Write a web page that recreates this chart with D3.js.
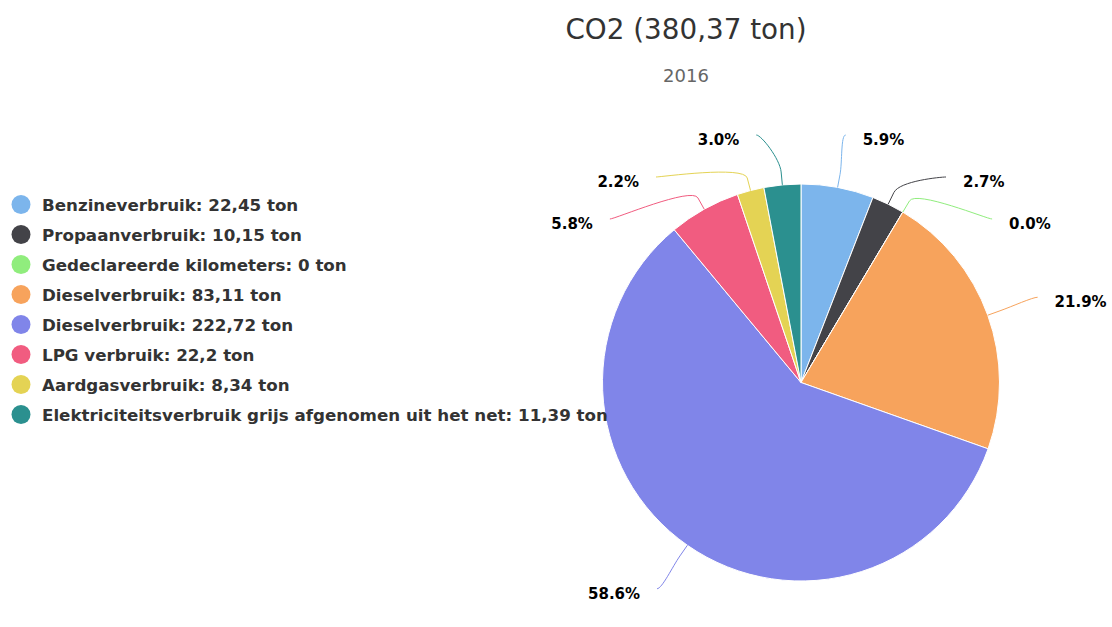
<!DOCTYPE html>
<html>
<head>
<meta charset="utf-8">
<script src="https://cdn.jsdelivr.net/npm/d3@7"></script>
<style>
  body { margin: 0; background: #fff; }
  svg { font-family: "DejaVu Sans", sans-serif; display: block; }
</style>
</head>
<body>
<div id="viz-chart"></div>
<script>
// data
const categories = [
  "Benzineverbruik",
  "Propaanverbruik",
  "Gedeclareerde kilometers",
  "Dieselverbruik",
  "Dieselverbruik",
  "LPG verbruik",
  "Aardgasverbruik",
  "Elektriciteitsverbruik grijs afgenomen uit het net"
];
const values = [22.45, 10.15, 0, 83.11, 222.72, 22.2, 8.34, 11.39];
const colors = ["#7cb5ec", "#434348", "#90ed7d", "#f7a35c", "#8085e9", "#f15c80", "#e4d354", "#2b908f"];
const titleText = "CO2 (380,37 ton)";
const subtitleText = "2016";

const width = 1112, height = 627;
const cx = 801, cy = 382.5, r = 198.5;
const labelDistance = 53;
const labelR = r + labelDistance;
const boxSize = 42;
const labelTop = 114;

const data = categories.map((c, i) => ({ name: c, value: values[i], color: colors[i] }));
const total = d3.sum(values);

const svg = d3.select("#viz-chart")
  .append("svg")
  .attr("width", width)
  .attr("height", height);

svg.append("text")
  .attr("x", 686).attr("y", 39)
  .attr("text-anchor", "middle")
  .style("font-size", "27.8px")
  .style("fill", "#333333")
  .text(titleText);

svg.append("text")
  .attr("x", 686).attr("y", 82)
  .attr("text-anchor", "middle")
  .style("font-size", "18px")
  .style("fill", "#666666")
  .text(subtitleText);

const pie = d3.pie().sort(null).value((d) => d.value);
const arcs = pie(data);
const arc = d3.arc().innerRadius(0).outerRadius(r);

const g = svg.append("g").attr("transform", `translate(${cx},${cy})`);

g.selectAll("path.slice")
  .data(arcs)
  .enter()
  .append("path")
  .attr("class", "slice")
  .attr("d", arc)
  .style("fill", (d) => d.data.color)
  .style("stroke", "#ffffff")
  .style("stroke-width", 1)
  .style("stroke-linejoin", "round");

// label layout (roughly how highcharts spreads them)
arcs.forEach((d) => {
  d.mid = (d.startAngle + d.endAngle) / 2;
  d.left = d.mid > Math.PI;
  d.target = -labelR * Math.cos(d.mid);
});

function distribute(items) {
  items.sort((a, b) => a.target - b.target);
  let groups = items.map((d) => ({ items: [d], size: boxSize, pos: d.target - boxSize / 2 }));
  const top = labelTop - cy;
  let changed = true;
  while (changed) {
    changed = false;
    groups.forEach((gr) => {
      const mean = d3.mean(gr.items, (d) => d.target);
      gr.pos = Math.max(top, mean - gr.size / 2);
    });
    for (let i = 1; i < groups.length; i++) {
      const a = groups[i - 1], b = groups[i];
      if (a.pos + a.size > b.pos) {
        a.items = a.items.concat(b.items);
        a.size += b.size;
        groups.splice(i, 1);
        changed = true;
        break;
      }
    }
  }
  groups.forEach((gr) => {
    gr.items.forEach((d, i) => {
      d.ly = gr.pos + boxSize / 2 + i * boxSize;
    });
  });
}
distribute(arcs.filter((d) => !d.left));
distribute(arcs.filter((d) => d.left));

arcs.forEach((d) => {
  const dy = Math.min(Math.abs(d.ly), labelR);
  const dx = Math.sqrt(labelR * labelR - dy * dy);
  d.lx = d.left ? -dx : dx;
});

const connOffset = 13;
g.selectAll("path.connector")
  .data(arcs)
  .enter()
  .append("path")
  .attr("class", "connector")
  .attr("d", (d) => {
    const sx = Math.sin(d.mid), sy = -Math.cos(d.mid);
    const tx = sx * r, ty = sy * r;
    const bx = sx * (r + connOffset), by = sy * (r + connOffset);
    const c1x = d.lx + (d.left ? 5 : -5);
    return `M${d.lx},${d.ly}C${c1x},${d.ly} ${2 * bx - tx},${2 * by - ty} ${bx},${by}L${tx},${ty}`;
  })
  .style("fill", "none")
  .style("stroke", (d) => d.data.color)
  .style("stroke-width", 1);

g.selectAll("text.dlabel")
  .data(arcs)
  .enter()
  .append("text")
  .attr("class", "dlabel")
  .attr("x", (d) => d.lx + (d.left ? -17 : 17))
  .attr("y", (d) => d.ly + 10)
  .attr("text-anchor", (d) => (d.left ? "end" : "start"))
  .style("font-size", "15px")
  .style("font-weight", "bold")
  .style("fill", "#000000")
  .style("stroke", "#ffffff")
  .style("stroke-width", "2px")
  .style("stroke-linejoin", "round")
  .style("paint-order", "stroke")
  .text((d) => d3.format(".1f")((d.data.value / total) * 100) + "%");

// legend
const legend = svg.append("g").attr("transform", "translate(0,204.5)");
const rows = legend.selectAll("g")
  .data(data)
  .enter()
  .append("g")
  .attr("transform", (d, i) => `translate(0,${i * 30})`);

rows.append("circle")
  .attr("cx", 21)
  .attr("cy", 0)
  .attr("r", 9.5)
  .style("fill", (d) => d.color);

rows.append("text")
  .attr("x", 42)
  .attr("y", 6.5)
  .style("font-size", "16.7px")
  .style("font-weight", "bold")
  .style("fill", "#333333")
  .text((d) => `${d.name}: ${String(d.value).replace(".", ",")} ton`);
</script>
</body>
</html>
